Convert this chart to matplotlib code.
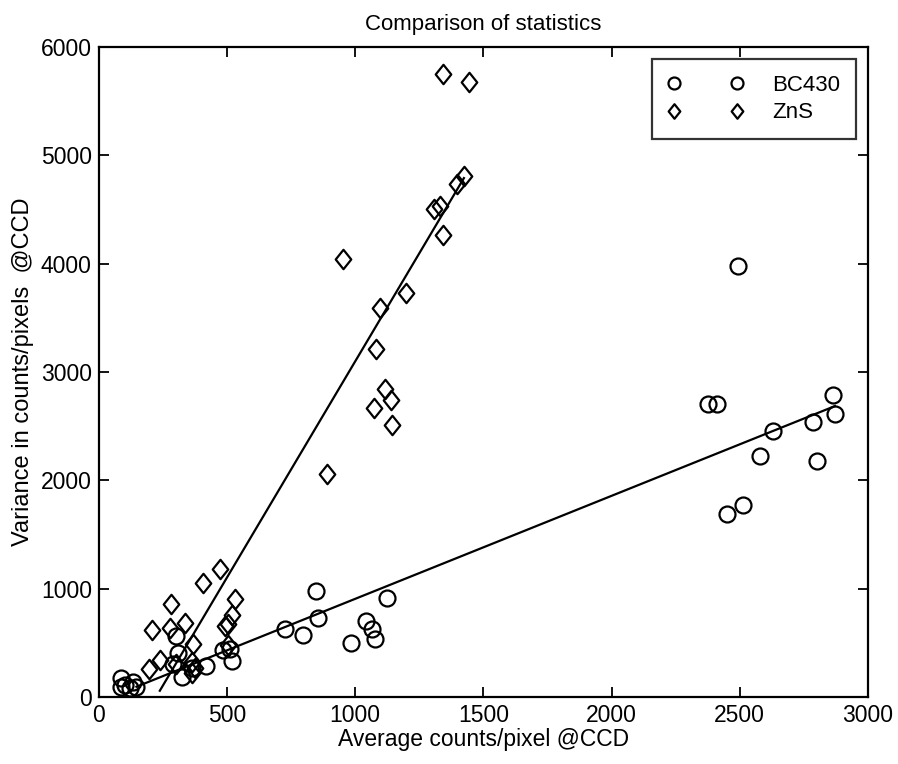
import matplotlib
matplotlib.use("Agg")
import matplotlib.pyplot as plt
import numpy as np
from matplotlib.path import Path

plt.rcParams["font.family"] = ["Liberation Sans", "DejaVu Sans"]

# BC430 (circles)
bc430_x = [88, 88, 134, 147, 121, 101,
           303, 309, 290, 323, 362, 417, 485, 510, 520,
           726, 795, 846, 856, 982, 1042, 1064, 1078, 1125,
           2377, 2412, 2449, 2494, 2512, 2579, 2629, 2787, 2803, 2865, 2871]
bc430_y = [172, 95, 141, 95, 80, 111,
           565, 403, 300, 187, 265, 290, 430, 440, 330,
           627, 572, 978, 732, 501, 701, 627, 535, 910,
           2703, 2703, 1685, 3979, 1771, 2226, 2454, 2540, 2177, 2792, 2611]

# ZnS (diamonds)
zns_x = [196, 206, 238, 280, 277, 303, 336, 362, 368, 375, 362, 407, 472, 492,
         504, 504, 518, 531,
         892, 953, 1073, 1083, 1096, 1116, 1138, 1142, 1197, 1307, 1330, 1341,
         1341, 1396, 1424, 1445]
zns_y = [260, 615, 338, 858, 638, 300, 683, 326, 485, 265, 219, 1049, 1178, 655,
         675, 480, 756, 901,
         2054, 4047, 2669, 3210, 3595, 2839, 2740, 2509, 3733, 4508, 4532, 4262,
         5753, 4732, 4806, 5676]

# fitted lines: slope, intercept, x range
bc430_fit = (0.951, -45.0)
bc430_fit_range = (147, 2871)
zns_fit = (3.99, -892.0)
zns_fit_range = (238, 1424)

diamond = Path([(0, 1), (0.8, 0), (0, -1), (-0.8, 0), (0, 1)],
               [Path.MOVETO, Path.LINETO, Path.LINETO, Path.LINETO, Path.CLOSEPOLY])

fig = plt.figure(figsize=(8.98, 7.64), dpi=100)
ax = fig.add_axes([0.110, 0.0877, 0.8566, 0.8508])

ax.plot(bc430_x, bc430_y, linestyle="none", marker="o", markersize=11.5,
        markerfacecolor="none", markeredgecolor="black", markeredgewidth=1.6,
        label="BC430")
ax.plot(zns_x, zns_y, linestyle="none", marker=diamond, markersize=14,
        markerfacecolor="none", markeredgecolor="black", markeredgewidth=1.6,
        label="ZnS")

for (m, b), (x0, x1) in [(bc430_fit, bc430_fit_range), (zns_fit, zns_fit_range)]:
    xs = np.array([x0, x1])
    ax.plot(xs, m * xs + b, color="black", linewidth=1.6)

ax.set_xlim(0, 3000)
ax.set_ylim(0, 6000)
ax.set_xticks(np.arange(0, 3001, 500))
ax.set_yticks(np.arange(0, 6001, 1000))
ax.tick_params(direction="in", length=7, width=1.3, top=True, right=True,
               labelsize=16.5, pad=5)
for spine in ax.spines.values():
    spine.set_linewidth(1.6)

ax.set_title("Comparison of statistics", fontsize=16, pad=12)
ax.set_xlabel("Average counts/pixel @CCD", fontsize=16.5, labelpad=1)
ax.set_ylabel("Variance in counts/pixels  @CCD", fontsize=17, labelpad=5)

leg = ax.legend(loc="upper right", numpoints=2, handlelength=3.4,
                fontsize=16, frameon=True, fancybox=False,
                borderaxespad=0.55, labelspacing=0.3, handletextpad=1.3,
                borderpad=0.7, markerscale=0.75)
leg.get_frame().set_edgecolor("black")
leg.get_frame().set_linewidth(1.6)

fig.savefig("out.png", dpi=100)
